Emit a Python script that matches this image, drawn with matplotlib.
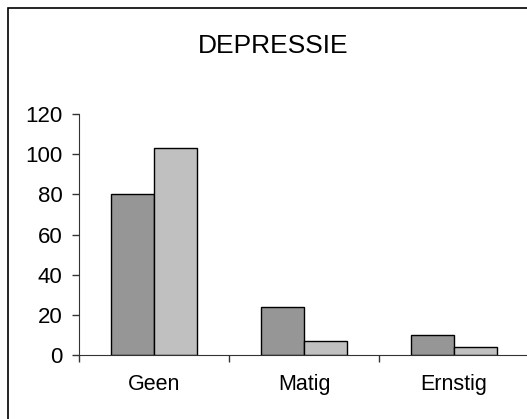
import matplotlib.pyplot as plt
import numpy as np
from matplotlib.patches import Rectangle

categories = ["Geen", "Matig", "Ernstig"]
series_dark = [80, 24, 10]
series_light = [103, 7, 4]

plt.rcParams['font.family'] = ['Liberation Sans', 'DejaVu Sans']

fig = plt.figure(figsize=(5.27, 4.19), dpi=100)

# outer chart border (cropped at right and bottom)
fig.patches.append(Rectangle((8 / 527, -0.1), 1.2, 1.1 - 8 / 419,
                             transform=fig.transFigure, fill=False,
                             edgecolor="black", linewidth=1.2))

ax = fig.add_axes([79 / 527, 1 - 354.7 / 419, 450 / 527, 240.4 / 419])

position = np.arange(len(categories))
width = 0.285
ax.bar(position - width / 2, series_dark, width, color="#969696",
       edgecolor="black", linewidth=1.0)
ax.bar(position + width / 2, series_light, width, color="#c0c0c0",
       edgecolor="black", linewidth=1.0)

ax.set_xlim(-0.5, 2.5)
ax.set_ylim(0, 120)
ax.set_yticks(np.arange(0, 121, 20))
ax.set_xticks(position)
ax.set_xticklabels(categories)
ax.set_xticks(np.arange(-0.5, 2.6, 1), minor=True)

for side in ["top", "right"]:
    ax.spines[side].set_visible(False)
ax.spines["left"].set_color("#333333")
ax.spines["bottom"].set_color("#333333")

ax.tick_params(axis="y", length=5, width=1, color="#333333", labelsize=16, pad=7)
ax.tick_params(axis="x", which="major", length=0, labelsize=15.5, pad=14)
ax.tick_params(axis="x", which="minor", length=5, width=1, color="#333333")

fig.text(273.5 / 527, 1 - 46 / 419, "DEPRESSIE", ha="center", va="center",
         fontsize=19)

fig.savefig("out.png", dpi=100)
